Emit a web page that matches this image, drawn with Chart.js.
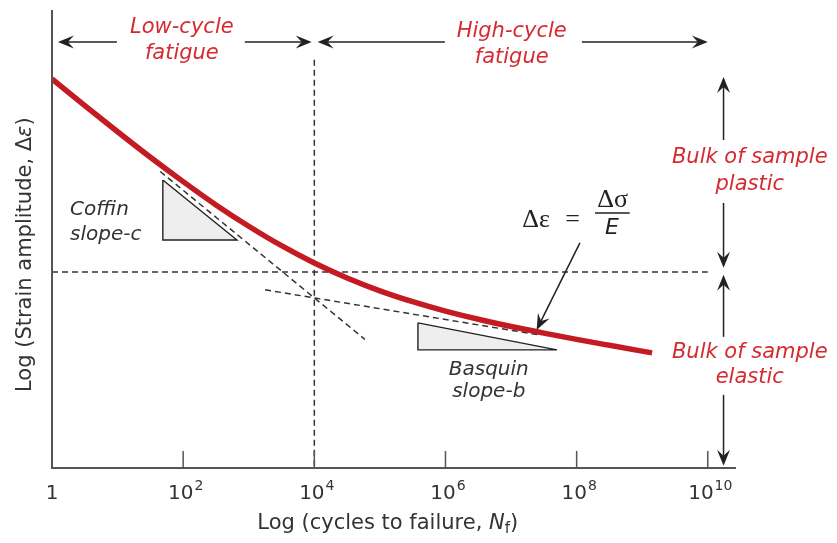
<!DOCTYPE html>
<html>
<head>
<meta charset="utf-8">
<title>Strain-life curve</title>
<script src="https://cdn.jsdelivr.net/npm/chart.js@4/dist/chart.umd.min.js"></script>
<style>
  html, body { margin: 0; padding: 0; background: #fff; }
  #wrap { width: 837px; height: 543px; }
</style>
</head>
<body>
<div id="wrap"><canvas id="grafica" width="837" height="543"></canvas></div>
<script>
// log10 of cycles to failure and log10 of total strain amplitude
const logCycles = [0, 0.5, 1, 1.5, 2, 2.5, 3, 3.5, 4, 4.5, 5, 5.5, 6, 6.5, 7, 7.5, 8, 8.5, 9.15];
const logStrain = [-0.645, -0.875, -1.100, -1.320, -1.530, -1.731, -1.915, -2.083, -2.232,
                   -2.361, -2.472, -2.566, -2.647, -2.717, -2.780, -2.837, -2.891, -2.942, -3.007];

// plastic (Coffin) and elastic (Basquin) asymptotes
const coffinX = [1.65, 4.77];
const coffinY = [-1.443, -2.890];
const basquinX = [3.25, 7.45];
const basquinY = [-2.463, -2.854];

// transition point reference lines
const transX = [4, 4];
const transY = [-0.48, -4];
const levelX = [0, 10];
const levelY = [-2.309, -2.309];

// slope triangles
const coffinTriX = [1.69, 1.69, 2.82, 1.69];
const coffinTriY = [-1.516, -2.033, -2.033, -1.516];
const basquinTriX = [5.58, 5.58, 7.70, 5.58];
const basquinTriY = [-2.748, -2.981, -2.981, -2.748];

// x axis ticks (powers of ten)
const tickExps = [0, 2, 4, 6, 8, 10];

const ROJO = '#c41b22';
const ROJO_TXT = '#d62a31';
const GRIS = '#333';
const SANS = '"DejaVu Sans", sans-serif';
const SERIF = '"Liberation Serif", "DejaVu Serif", serif';

function pares(xs, ys) {
    return xs.map((x, i) => ({ x: x, y: ys[i] }));
}

// ejes, flechas y textos encima de las series
const anotaciones = {
    id: 'anotaciones',
    afterDatasetsDraw(chart) {
        const ctx = chart.ctx;
        const sx = chart.scales.x, sy = chart.scales.y;
        const area = chart.chartArea;
        const px = v => sx.getPixelForValue(v);
        const py = v => sy.getPixelForValue(v);

        function texto(str, x, y, font, color, align) {
            ctx.font = font;
            ctx.fillStyle = color;
            ctx.textAlign = align || 'center';
            ctx.textBaseline = 'middle';
            ctx.fillText(str, x, y);
        }

        function flecha(x1, y1, x2, y2) {
            const ang = Math.atan2(y2 - y1, x2 - x1);
            const len = 16, ancho = 6.5, muesca = 10;
            ctx.strokeStyle = '#222';
            ctx.fillStyle = '#222';
            ctx.lineWidth = 1.5;
            ctx.beginPath();
            ctx.moveTo(x1, y1);
            ctx.lineTo(x2 - Math.cos(ang) * muesca, y2 - Math.sin(ang) * muesca);
            ctx.stroke();
            ctx.save();
            ctx.translate(x2, y2);
            ctx.rotate(ang);
            ctx.beginPath();
            ctx.moveTo(0, 0);
            ctx.lineTo(-len, -ancho);
            ctx.lineTo(-muesca, 0);
            ctx.lineTo(-len, ancho);
            ctx.closePath();
            ctx.fill();
            ctx.restore();
        }

        ctx.save();

        // ejes
        ctx.strokeStyle = '#555';
        ctx.lineWidth = 2;
        ctx.beginPath();
        ctx.moveTo(area.left, area.top);
        ctx.lineTo(area.left, area.bottom);
        ctx.lineTo(area.right, area.bottom);
        ctx.stroke();

        // marcas y etiquetas del eje x
        ctx.lineWidth = 1.5;
        tickExps.forEach(e => {
            const x = px(e);
            if (e > 0) {
                ctx.strokeStyle = '#555';
                ctx.beginPath();
                ctx.moveTo(x, area.bottom);
                ctx.lineTo(x, area.bottom - 17);
                ctx.stroke();
            }
            const yl = area.bottom + 26;
            if (e === 0) {
                texto('1', x, yl, '20px ' + SANS, GRIS);
            } else {
                ctx.font = '20px ' + SANS;
                const wb = ctx.measureText('10').width;
                ctx.font = '14px ' + SANS;
                const ws = ctx.measureText(String(e)).width;
                const x0 = x - (wb + ws) / 2 + 2;
                texto('10', x0, yl, '20px ' + SANS, GRIS, 'left');
                texto(String(e), x0 + wb + 1, yl - 8, '14px ' + SANS, GRIS, 'left');
            }
        });

        // título eje x con N en cursiva y subíndice f
        {
            const partes = [
                ['Log (cycles to failure, ', '21px ' + SANS, 0],
                ['N', 'oblique 21px ' + SANS, 0],
                ['f', '15px ' + SANS, 5],
                [')', '21px ' + SANS, 0]
            ];
            let total = 0;
            partes.forEach(p => { ctx.font = p[1]; total += ctx.measureText(p[0]).width; });
            let x = px(5.12) - total / 2;
            const y = area.bottom + 56;
            partes.forEach(p => {
                texto(p[0], x, y + p[2], p[1], GRIS, 'left');
                ctx.font = p[1];
                x += ctx.measureText(p[0]).width;
            });
        }

        // título eje y
        {
            ctx.save();
            ctx.translate(26, py(-2.16));
            ctx.rotate(-Math.PI / 2);
            const partes = [
                ['Log (Strain amplitude, \u0394', '21px ' + SANS],
                ['\u03b5', 'oblique 21px ' + SANS],
                [')', '21px ' + SANS]
            ];
            let total = 0;
            partes.forEach(p => { ctx.font = p[1]; total += ctx.measureText(p[0]).width; });
            let x = -total / 2;
            partes.forEach(p => {
                texto(p[0], x, 0, p[1], GRIS, 'left');
                ctx.font = p[1];
                x += ctx.measureText(p[0]).width;
            });
            ctx.restore();
        }

        // flechas superiores: regímenes de fatiga
        const yTop = py(-0.326);
        flecha(px(0.99), yTop, px(0.09), yTop);
        flecha(px(2.94), yTop, px(3.96), yTop);
        flecha(px(5.99), yTop, px(4.05), yTop);
        flecha(px(8.08), yTop, px(10.0), yTop);
        texto('Low-cycle', px(1.98), py(-0.205), 'oblique 21px ' + SANS, ROJO_TXT);
        texto('fatigue', px(1.98), py(-0.429), 'oblique 21px ' + SANS, ROJO_TXT);
        texto('High-cycle', px(7.01), py(-0.24), 'oblique 21px ' + SANS, ROJO_TXT);
        texto('fatigue', px(7.01), py(-0.464), 'oblique 21px ' + SANS, ROJO_TXT);

        // flechas laterales: comportamiento plástico / elástico
        const xr = px(10.24);
        flecha(xr, py(-1.171), xr, py(-0.628));
        flecha(xr, py(-1.714), xr, py(-2.274));
        flecha(xr, py(-2.869), xr, py(-2.334));
        flecha(xr, py(-3.369), xr, py(-3.981));
        texto('Bulk of sample', px(10.64), py(-1.326), 'oblique 21px ' + SANS, ROJO_TXT);
        texto('plastic', px(10.64), py(-1.559), 'oblique 21px ' + SANS, ROJO_TXT);
        texto('Bulk of sample', px(10.64), py(-3.0), 'oblique 21px ' + SANS, ROJO_TXT);
        texto('elastic', px(10.64), py(-3.222), 'oblique 21px ' + SANS, ROJO_TXT);

        // etiquetas de pendientes
        texto('Coffin', px(0.274), py(-1.774), 'oblique 20px ' + SANS, GRIS, 'left');
        texto('slope-c', px(0.274), py(-1.99), 'oblique 20px ' + SANS, GRIS, 'left');
        texto('Basquin', px(6.66), py(-3.153), 'oblique 20px ' + SANS, GRIS);
        texto('slope-b', px(6.66), py(-3.343), 'oblique 20px ' + SANS, GRIS);

        // ecuación elástica y su flecha
        texto('\u0394\u03b5', px(7.38), py(-1.86), '26px ' + SERIF, '#222');
        texto('=', px(7.94), py(-1.86), '26px ' + SERIF, '#222');
        texto('\u0394\u03c3', px(8.55), py(-1.688), '26px ' + SERIF, '#222');
        ctx.strokeStyle = '#222';
        ctx.lineWidth = 1.5;
        ctx.beginPath();
        ctx.moveTo(px(8.28), py(-1.80));
        ctx.lineTo(px(8.81), py(-1.80));
        ctx.stroke();
        texto('E', px(8.54), py(-1.929), 'oblique 22px ' + SANS, '#222');
        flecha(px(8.05), py(-2.059), px(7.39), py(-2.809));

        ctx.restore();
    }
};

const dashed = { borderColor: '#333', borderWidth: 1.5, borderDash: [6, 4], pointRadius: 0, showLine: true, fill: false, order: 1 };
const triangle = { borderColor: '#222', borderWidth: 1.4, backgroundColor: '#eeeeee', pointRadius: 0, showLine: true, fill: 'shape', tension: 0, order: 2 };

new Chart(document.getElementById('grafica'), {
    type: 'scatter',
    data: {
        datasets: [
            {
                label: 'Total strain',
                data: pares(logCycles, logStrain),
                showLine: true,
                borderColor: ROJO,
                borderWidth: 5.5,
                pointRadius: 0,
                cubicInterpolationMode: 'monotone',
                fill: false,
                order: 0
            },
            Object.assign({ label: 'Coffin', data: pares(coffinX, coffinY) }, dashed),
            Object.assign({ label: 'Basquin', data: pares(basquinX, basquinY) }, dashed),
            Object.assign({ label: 'Transition', data: pares(transX, transY) }, dashed),
            Object.assign({ label: 'Level', data: pares(levelX, levelY) }, dashed),
            Object.assign({ label: 'Coffin slope', data: pares(coffinTriX, coffinTriY) }, triangle),
            Object.assign({ label: 'Basquin slope', data: pares(basquinTriX, basquinTriY) }, triangle)
        ]
    },
    options: {
        responsive: false,
        animation: false,
        devicePixelRatio: 1,
        layout: { padding: { left: 52, top: 10, right: 101, bottom: 75 } },
        scales: {
            x: { type: 'linear', min: 0, max: 10.43, display: false },
            y: { type: 'linear', min: -4, max: -0.05, display: false }
        },
        plugins: {
            legend: { display: false },
            tooltip: { enabled: false }
        }
    },
    plugins: [anotaciones]
});
</script>
</body>
</html>
